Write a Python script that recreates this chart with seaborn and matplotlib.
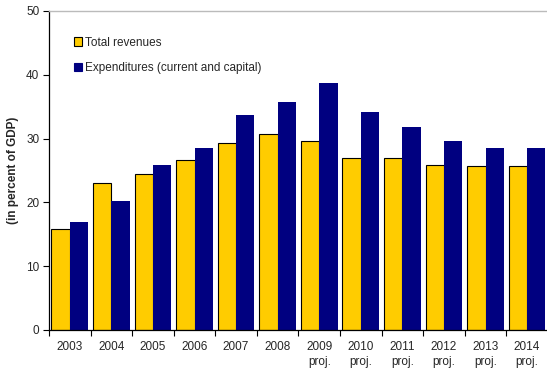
import matplotlib
matplotlib.use("Agg")
import matplotlib.pyplot as plt
import seaborn as sns
import pandas as pd
import numpy as np

years = ["2003", "2004", "2005", "2006", "2007", "2008",
         "2009", "2010", "2011", "2012", "2013", "2014"]
tick_labels = ["2003", "2004", "2005", "2006", "2007", "2008",
               "2009\nproj.", "2010\nproj.", "2011\nproj.", "2012\nproj.",
               "2013\nproj.", "2014\nproj."]
revenues = [15.9, 23.1, 24.4, 26.7, 29.3, 30.7, 29.7, 26.9, 27.0, 25.8, 25.7, 25.7]
expenditures = [16.9, 20.2, 25.9, 28.5, 33.7, 35.7, 38.7, 34.2, 31.8, 29.6, 28.5, 28.5]
series_names = ["Total revenues", "Expenditures (current and capital)"]
colors = ["#FFCC00", "#000080"]

df = pd.DataFrame({
    "year": years * 2,
    "value": revenues + expenditures,
    "series": [series_names[0]] * len(years) + [series_names[1]] * len(years),
})

sns.set_style("white")
plt.rcParams["font.family"] = ["Liberation Sans", "DejaVu Sans"]
fs = 8.5

fig = plt.figure(figsize=(5.47, 3.69), dpi=100)
ax = fig.add_axes([0.0896, 0.1057, 0.912, 0.8645])

sns.barplot(data=df, x="year", y="value", hue="series", order=years,
            hue_order=series_names, palette=colors, width=0.885,
            saturation=1, ax=ax, legend=True)

# outline the revenue bars only
for patch in ax.containers[0]:
    patch.set_edgecolor("black")
    patch.set_linewidth(0.8)
for patch in ax.containers[1]:
    patch.set_linewidth(0)

ax.set_xlim(-0.5, len(years) - 0.5)
ax.set_ylim(0, 50)
ax.set_yticks(np.arange(0, 51, 10))
ax.tick_params(axis="y", direction="out", length=4, width=0.8, color="black",
               labelsize=fs, pad=3, left=True)
ax.set_xticks(range(len(years)))
ax.set_xticklabels(tick_labels, fontsize=fs, linespacing=1.3)
ax.tick_params(axis="x", which="major", length=0, pad=8)
ax.set_xticks(np.arange(-0.5, len(years), 1.0), minor=True)
ax.tick_params(axis="x", which="minor", direction="out", length=4, width=0.8,
               color="black", bottom=True)

ax.set_xlabel("")
ax.set_ylabel("(in percent of GDP)", fontsize=fs, fontweight="bold", labelpad=5)

for side in ["left", "bottom"]:
    ax.spines[side].set_color("black")
    ax.spines[side].set_linewidth(0.9)
ax.spines["top"].set_color("#bbbbbb")
ax.spines["top"].set_linewidth(1.0)
ax.spines["right"].set_visible(False)

handles, labels = ax.get_legend_handles_labels()
handles[0].set_edgecolor("black")
handles[0].set_linewidth(0.8)
handles[1].set_edgecolor(colors[1])
handles[1].set_linewidth(0.8)
ax.legend(handles, labels, loc="upper left", bbox_to_anchor=(0.05, 0.92),
          frameon=False, fontsize=fs, handlelength=0.7, handleheight=0.7,
          handletextpad=0.25, labelspacing=1.15, borderaxespad=0, borderpad=0)

fig.savefig("out.png", dpi=100)
